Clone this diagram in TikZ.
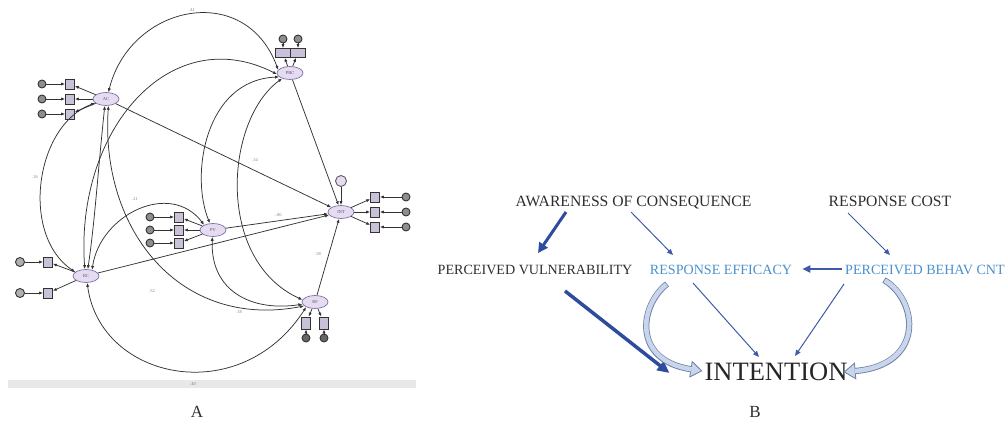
\documentclass[tikz,border=0pt]{standalone}
\usepackage{fontspec}
\setmainfont{Liberation Serif}
\usetikzlibrary{shapes.geometric,arrows.meta,calc}

\definecolor{latfill}{HTML}{E6DCF2}
\definecolor{latdraw}{HTML}{7F70A2}
\definecolor{indfill}{HTML}{C9C1D8}
\definecolor{errfill}{HTML}{8E8E8E}
\definecolor{semline}{HTML}{333333}
\definecolor{basebar}{HTML}{E8E8E8}
\definecolor{darktext}{HTML}{2E2E2E}
\definecolor{bluetext}{HTML}{4A90CC}
\definecolor{darkarrow}{HTML}{2E4C9E}
\definecolor{midarrow}{HTML}{3F5BA8}
\definecolor{blockfill}{HTML}{C8D5EA}
\definecolor{blockdraw}{HTML}{6A7FA5}

\tikzset{
  latent/.style={ellipse, draw=latdraw, fill=latfill, line width=0.7pt,
    minimum width=26pt, minimum height=13pt, inner sep=0pt,
    font=\fontsize{4.5}{5}\selectfont, text=latdraw!70!black},
  indic/.style={rectangle, draw=semline, fill=indfill, line width=0.7pt,
    minimum width=9pt, minimum height=10pt, inner sep=0pt},
  errc/.style={circle, draw=semline, fill=errfill, line width=0.9pt,
    minimum size=8pt, inner sep=0pt},
  regpath/.style={draw=semline, line width=0.75pt, -{Latex[length=4pt,width=3.2pt]}},
  covpath/.style={draw=semline, line width=0.75pt,
    {Latex[length=4pt,width=3.2pt]}-{Latex[length=4pt,width=3.2pt]}},
  coef/.style={font=\fontsize{4.5}{5}\selectfont, text=gray, inner sep=0pt},
  toplabel/.style={font=\fontsize{15.7}{16}\selectfont, text=darktext, inner sep=0pt},
  midlabel/.style={font=\fontsize{14.1}{15}\selectfont, inner sep=0pt},
  thinarrow/.style={draw=midarrow, line width=1pt, -{Triangle[length=6pt,width=5pt]}},
  thickarrow/.style={draw=darkarrow, line width=3pt, -{Triangle[length=10pt,width=10pt]}},
  blockarrow/.style={draw=blockdraw, line width=6.2pt,
    -{Triangle[length=12pt,width=17pt,line width=0.8pt,fill=blockfill]}},
  blockinner/.style={draw=blockfill, line width=4.6pt, shorten >=11pt, shorten <=0.8pt},
  panelmark/.style={font=\fontsize{17}{18}\selectfont, text=darktext, inner sep=0pt},
}

\begin{document}
\begin{tikzpicture}[x=1pt, y=-1pt]
\useasboundingbox (0,0) rectangle (1008,435);

% ---------------- Panel A: structural equation model ----------------
\fill[basebar] (8,380) rectangle (416,388);

% latent variables
\node[latent] (ac)  at (106,99)  {AC};
\node[latent] (pbc) at (290,73)  {PBC};
\node[latent] (pv)  at (213,230) {PV};
\node[latent] (int) at (341,212) {INT};
\node[latent] (rc)  at (86,276)  {RC};
\node[latent] (rf)  at (315,302) {RF};

% indicators of AC
\foreach \n/\y in {1/84,2/99,3/114} {
  \node[indic] (a\n) at (70,\y) {};
  \node[errc] (ea\n) at (42,\y) {};
  \draw[regpath] (ea\n) -- (a\n);
  \draw[regpath] (ac) -- (a\n);
}
% indicators of PV
\foreach \n/\y in {1/217,2/230,3/243} {
  \node[indic] (p\n) at (179,\y) {};
  \node[errc] (ep\n) at (150,\y) {};
  \draw[regpath] (ep\n) -- (p\n);
  \draw[regpath] (pv) -- (p\n);
}
% indicators of RC
\foreach \n/\y in {1/262,2/293} {
  \node[indic] (r\n) at (48,\y) {};
  \node[errc, minimum size=9pt, fill=errfill!70] (er\n) at (20,\y) {};
  \draw[regpath] (er\n) -- (r\n);
  \draw[regpath] (rc) -- (r\n);
}
% indicators of INT
\foreach \n/\y in {1/197,2/212,3/227} {
  \node[indic] (i\n) at (375,\y) {};
  \node[errc] (ei\n) at (406,\y) {};
  \draw[regpath] (ei\n) -- (i\n);
  \draw[regpath] (int) -- (i\n);
}
% indicators of PBC
\foreach \n/\x in {1/283,2/298} {
  \node[indic, minimum width=15pt, minimum height=9pt] (b\n) at (\x,53) {};
  \node[errc] (eb\n) at (\x,39) {};
  \draw[regpath] (eb\n) -- (b\n);
  \draw[regpath] (pbc) -- (b\n);
}
% indicators of RF
\foreach \n/\x in {1/306,2/324} {
  \node[indic, minimum height=12pt] (f\n) at (\x,323) {};
  \node[errc, fill=semline!75] (ef\n) at (\x,338) {};
  \draw[regpath] (ef\n) -- (f\n);
  \draw[regpath] (rf) -- (f\n);
}
% disturbance of INT
\node[errc, fill=latfill, draw=semline!80, minimum size=11pt] (dint) at (341,181) {};
\draw[regpath] (dint) -- (int);

% structural paths into INT
\draw[regpath] (ac) -- (int);
\draw[regpath] (pbc) -- (int);
\draw[regpath] (pv) -- (int);
\draw[regpath] (rc) -- (int);
\draw[regpath] (rf) -- (int);

% covariances
\draw[covpath] (ac.70) .. controls (130,5) and (245,-20) .. (pbc.165);
\draw[covpath] (rc.100) .. controls (75,130) and (170,20) .. (pbc.185);
\draw[covpath] (ac.200) .. controls (35,125) and (20,235) .. (rc.160);
\draw[covpath] (ac.-100) .. controls (98,170) and (95,220) .. (rc.75);
\draw[covpath] (pbc.200) .. controls (205,80) and (190,175) .. (pv.115);
\draw[covpath] (pbc.215) .. controls (225,120) and (215,260) .. (rf.170);
\draw[covpath] (pv.-95) .. controls (210,290) and (250,312) .. (rf.190);
\draw[covpath] (ac.-70) .. controls (100,230) and (180,330) .. (rf.200);
\draw[covpath] (rc.-80) .. controls (100,380) and (240,410) .. (rf.-150);
\draw[covpath] (rc.45) .. controls (100,215) and (170,180) .. (pv.150);

% estimates
\node[coef] (k1) at (192,10)  {.41};
\node[coef] (k2) at (35,177)  {.36};
\node[coef] (k3) at (278,215) {-.06};
\node[coef] (k4) at (318,254) {.38};
\node[coef] (k5) at (193,384) {.40};
\node[coef] (k6) at (152,291) {.52};
\node[coef] (k7) at (135,199) {.21};
\node[coef] (k8) at (239,312) {.18};
\node[coef] (k9) at (255,160) {.34};

\node[panelmark] (markA) at (197,412) {A};

% ---------------- Panel B: conceptual model ----------------
\node[toplabel, anchor=base] (aoc) at (633.5,207) {AWARENESS OF CONSEQUENCE};
\node[toplabel, anchor=base] (rcost) at (890,207) {RESPONSE COST};
\node[midlabel, text=darktext, anchor=base] (pvul) at (535,275) {PERCEIVED VULNERABILITY};
\node[midlabel, text=bluetext, anchor=base] (reff) at (721,275) {RESPONSE EFFICACY};
\node[midlabel, text=bluetext, anchor=base west] (pbeh) at (845,275) {PERCEIVED BEHAV CNT};
\node[font=\fontsize{26.5}{28}\selectfont, text=black!85, inner sep=0pt, anchor=base]
  (intn) at (776,380) {INTENTION};

\draw[thickarrow] ($(aoc.base)+(-67.5,5)$) -- ($(pvul.base)+(3,-22)$);
\draw[thinarrow] ($(aoc.base)+(-2.5,5)$) -- ($(reff.base)+(-48,-20)$);
\draw[thinarrow] ($(rcost.base)+(-42,6)$) -- ($(pbeh.base west)+(45,-20)$);
\draw[draw=midarrow, line width=1.8pt, -{Triangle[length=8pt,width=7pt]}]
  ($(pbeh.base west)+(-3,-6)$) -- ($(reff.base east)+(10,-6)$);
\draw[thickarrow, line width=3.5pt, -{Triangle[length=12pt,width=11pt]}]
  ($(pvul.base)+(30,16)$) -- ($(intn.base west)+(-35,-7)$);
\draw[thinarrow] ($(reff.base)+(-28,8)$) -- ($(intn.base)+(-17,-23)$);
\draw[thinarrow] ($(pbeh.base west)+(-1,9)$) -- ($(intn.base)+(19,-24)$);

% curved block arrows into INTENTION
\draw[blockarrow] ($(reff.base)+(-54,9)$) .. controls +(-27,21) and +(-71,-11) .. ($(intn.base west)+(-2,-9)$);
\draw[blockinner] ($(reff.base)+(-54,9)$) .. controls +(-27,21) and +(-71,-11) .. ($(intn.base west)+(-2,-9)$);
\draw[blockarrow] ($(pbeh.base west)+(39,5)$) .. controls +(34,20) and +(82,-7) .. ($(intn.base east)+(-4,-8)$);
\draw[blockinner] ($(pbeh.base west)+(39,5)$) .. controls +(34,20) and +(82,-7) .. ($(intn.base east)+(-4,-8)$);

\node[panelmark] (markB) at (755,412) {B};
\end{tikzpicture}
\end{document}
